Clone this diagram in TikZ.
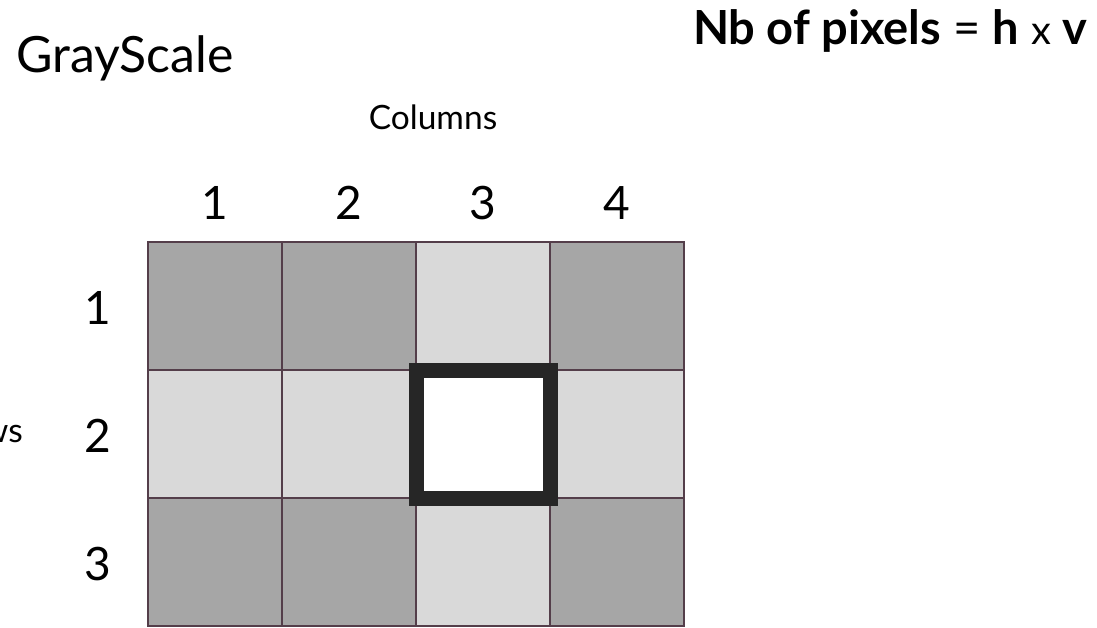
\documentclass[tikz,border=0pt]{standalone}
\usepackage{fontspec}
\setmainfont{Lato}
\usetikzlibrary{positioning}
\definecolor{cellDark}{RGB}{166,166,166}
\definecolor{cellLight}{RGB}{217,217,217}
\definecolor{gridLine}{RGB}{84,62,74}
\definecolor{frameDark}{RGB}{38,38,38}

\begin{document}
\begin{tikzpicture}[x=1pt, y=-1pt,
    cell/.style={draw=gridLine, line width=2pt, minimum width=134pt, minimum height=128pt,
                 inner sep=0pt, outer sep=0pt, anchor=north west},
    num/.style={font=\fontsize{46}{46}\selectfont, inner sep=0pt}]
    \useasboundingbox (0,0) rectangle (1097,628);

    % 3 x 4 pixel grid, row by row
    \foreach \r/\c/\shade in {1/1/cellDark, 1/2/cellDark, 1/3/cellLight, 1/4/cellDark,
                              2/1/cellLight, 2/2/cellLight, 2/3/cellLight, 2/4/cellLight,
                              3/1/cellDark, 3/2/cellDark, 3/3/cellLight, 3/4/cellDark}
        \node[cell, fill=\shade] (cell-\r-\c) at ({148+(\c-1)*134}, {242+(\r-1)*128}) {};

    % selected pixel (row 2, column 3)
    \node[draw=frameDark, fill=white, line width=15pt, minimum width=134pt, minimum height=128pt,
          inner sep=0pt, outer sep=0pt] (pick) at (cell-2-3) {};

    % column and row indices
    \foreach \c in {1,...,4}
        \node[num, anchor=base] (col-\c) at ([yshift=22pt]cell-1-\c.north) {\c};
    \foreach \r in {1,...,3}
        \node[num] (row-\r) at ([xshift=-50pt, yshift=-2pt]cell-\r-1.west) {\r};

    \node[font=\fontsize{33.5}{33.5}\selectfont, inner sep=0pt, anchor=base] (columns) at (433,130) {Columns};
    \node[font=\fontsize{33.5}{33.5}\selectfont, inner sep=0pt, anchor=base east] (rows) at (23,442) {Rows};

    \node[font=\fontsize{50}{50}\selectfont, inner sep=0pt, anchor=base west] (title) at (16,73) {GrayScale};
    \node[font=\fontsize{47}{47}\selectfont, inner sep=0pt, anchor=base east] (formula) at (1088,45)
        {\textbf{Nb of pixels} = \textbf{h} {\fontsize{40}{40}\selectfont x} \textbf{v}};
\end{tikzpicture}
\end{document}
